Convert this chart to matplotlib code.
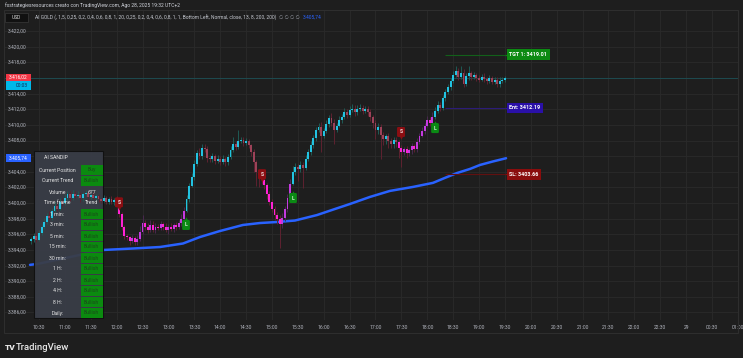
import matplotlib
matplotlib.use("Agg")
import matplotlib.pyplot as plt
import matplotlib.transforms as mtransforms
from matplotlib.patches import Rectangle
import numpy as np

plt.rcParams['font.family'] = ['Roboto', 'DejaVu Sans']

# ---------------- data ----------------
bar_step = 3            # minutes per candle
first_bar = -9          # minutes relative to 10:30 (session minutes)
first_open = 3395.1
closes = [
    3395.4, 3395.8, 3395.3, 3396.2, 3396.9, 3397.6, 3398.4, 3398.1, 3399.0, 3399.6,
    3399.3, 3400.2, 3400.0, 3400.6, 3401.1, 3400.7, 3401.2, 3400.9, 3401.0, 3400.6,
    3401.1, 3401.3, 3400.8, 3401.0, 3400.7, 3400.9, 3400.5, 3400.3, 3400.6, 3400.2,
    3400.5, 3400.1, 3400.4, 3400.0, 3398.6, 3397.0, 3395.8, 3395.6, 3395.2, 3395.5,
    3395.0, 3395.4, 3396.3, 3397.5, 3397.0, 3396.5, 3397.2, 3396.6, 3397.0, 3396.8,
    3397.3, 3396.9, 3396.6, 3397.0, 3396.7, 3397.2, 3396.9, 3397.4, 3398.0, 3399.0,
    3400.5, 3402.2, 3403.3, 3405.0, 3406.4, 3406.0, 3407.1, 3406.9, 3405.8, 3405.6,
    3406.0, 3405.4, 3405.7, 3405.3, 3405.6, 3405.2, 3405.9, 3406.8, 3407.6, 3407.2,
    3407.9, 3408.1, 3407.7, 3407.9, 3407.4, 3406.6, 3405.2, 3404.0, 3403.6, 3403.0,
    3402.3, 3401.1, 3400.2, 3399.3, 3398.5, 3398.0, 3397.3, 3398.1, 3399.2, 3400.6,
    3402.5, 3404.0, 3404.6, 3404.3, 3404.9, 3404.5, 3405.6, 3406.5, 3407.4, 3408.3,
    3409.4, 3409.8, 3408.6, 3409.2, 3410.1, 3410.9, 3410.3, 3409.4, 3409.9, 3410.6,
    3411.0, 3411.7, 3411.3, 3411.9, 3412.1, 3411.6, 3412.0, 3412.2, 3411.8, 3412.1,
    3411.6, 3411.0, 3410.2, 3409.4, 3409.8, 3408.7, 3408.2, 3408.6, 3408.0, 3407.6,
    3408.1, 3407.8, 3407.0, 3406.6, 3406.9, 3406.4, 3406.8, 3407.3, 3406.9, 3407.8,
    3408.6, 3409.2, 3409.9, 3410.6, 3410.3, 3411.0, 3411.8, 3412.5, 3412.2, 3413.4,
    3414.2, 3414.8, 3415.6, 3416.4, 3416.9, 3416.2, 3416.7, 3415.3, 3416.3, 3416.6,
    3416.1, 3416.4, 3416.0, 3415.8, 3416.2, 3415.9, 3415.6, 3416.0, 3415.5, 3415.8,
    3415.2, 3415.6, 3415.8, 3416.02,
]
wick_up = [
    0.3, 0.4, 0.5, 0.3, 0.4, 0.5, 0.3, 0.6, 0.4, 0.5,
    0.6, 0.5, 0.4, 0.6, 0.5, 0.4, 0.5, 0.3, 0.6, 0.4,
    0.3, 0.4, 0.3, 0.2, 0.4, 0.3, 0.3, 0.2, 0.4, 0.3,
    0.3, 0.4, 0.3, 0.5, 0.3, 0.2, 0.2, 0.3, 0.2, 0.4,
    0.3, 0.5, 0.8, 1.0, 0.3, 0.4, 0.6, 0.5, 0.4, 0.3,
    0.4, 0.3, 0.5, 0.3, 0.4, 0.3, 0.4, 0.5, 0.6, 0.5,
    0.5, 0.4, 0.6, 0.5, 0.4, 0.6, 0.5, 0.5, 0.4, 0.4,
    0.4, 0.3, 0.4, 0.3, 0.5, 0.3, 0.4, 0.5, 0.9, 0.4,
    1.4, 0.4, 0.3, 0.4, 0.3, 0.2, 0.3, 0.3, 0.2, 0.3,
    0.3, 0.3, 0.4, 0.3, 0.3, 0.4, 0.5, 0.6, 0.4, 0.5,
    0.6, 0.7, 0.5, 0.4, 0.5, 0.4, 0.5, 0.4, 0.5, 0.4,
    0.4, 0.5, 0.6, 0.4, 0.5, 0.4, 0.6, 0.4, 0.3, 0.5,
    0.4, 0.5, 0.4, 0.5, 0.6, 0.4, 0.5, 0.5, 0.4, 0.3,
    0.3, 0.4, 0.3, 0.4, 0.5, 0.3, 0.4, 0.3, 0.4, 0.3,
    0.4, 0.3, 0.3, 0.4, 0.3, 0.4, 0.3, 0.4, 0.3, 0.5,
    0.4, 0.5, 0.4, 0.5, 0.4, 0.6, 0.5, 0.6, 0.5, 0.4,
    0.4, 0.5, 0.4, 0.5, 0.7, 0.4, 0.9, 0.4, 0.4, 1.0,
    0.3, 0.4, 0.3, 0.4, 0.3, 0.4, 0.3, 0.4, 0.3, 0.4,
    0.3, 0.6, 0.4, 0.3,
]
wick_dn = [
    0.3, 0.4, 0.3, 0.2, 0.3, 0.2, 0.3, 0.2, 0.3, 0.2,
    0.3, 0.2, 0.4, 0.3, 0.2, 0.4, 0.3, 0.3, 0.2, 0.4,
    0.3, 0.2, 0.4, 0.3, 0.2, 0.3, 0.4, 0.3, 0.2, 0.3,
    0.3, 0.2, 0.3, 0.2, 0.4, 0.5, 0.4, 0.3, 0.5, 0.3,
    0.4, 0.3, 0.2, 0.3, 0.4, 0.3, 0.2, 0.3, 0.4, 0.3,
    0.3, 0.4, 0.3, 0.5, 0.3, 0.4, 0.3, 0.2, 0.3, 0.3,
    0.2, 0.3, 0.2, 0.3, 0.2, 0.4, 0.3, 0.3, 0.5, 0.4,
    0.3, 0.4, 0.3, 0.4, 0.3, 0.4, 0.3, 0.2, 0.3, 0.4,
    0.3, 0.2, 0.4, 0.3, 0.4, 0.6, 1.2, 1.8, 1.5, 0.6,
    0.5, 0.6, 0.4, 0.5, 0.6, 0.7, 3.0, 0.5, 0.4, 0.3,
    0.3, 0.2, 0.4, 1.5, 0.3, 2.6, 0.3, 0.2, 0.3, 0.3,
    0.3, 0.3, 2.1, 0.3, 0.2, 0.3, 0.4, 1.8, 0.3, 0.2,
    0.3, 0.2, 0.4, 0.3, 0.2, 0.4, 0.3, 0.2, 0.4, 0.3,
    0.4, 0.5, 0.6, 1.2, 0.5, 3.0, 0.8, 0.6, 1.0, 0.6,
    0.5, 0.6, 1.2, 2.0, 0.5, 0.6, 0.4, 0.5, 0.4, 0.3,
    0.3, 0.2, 0.3, 0.2, 0.4, 0.3, 0.2, 0.3, 0.4, 0.3,
    0.3, 0.2, 0.3, 0.2, 0.3, 0.5, 0.3, 0.5, 0.3, 0.6,
    0.3, 0.2, 0.4, 0.3, 0.2, 0.4, 0.3, 0.2, 0.3, 0.2,
    0.4, 0.3, 0.2, 0.3,
]

# trend phases (first candle of each new phase)
phase_starts = [93, 171, 258, 294, 417, 459]
phase_kinds = ['bear', 'bull', 'bear', 'bull', 'bear', 'bull']

# signal labels
signal_text = ['S', 'L', 'S', 'L', 'S', 'L']
signal_time = [92.7, 170.4, 258.5, 294.4, 419.6, 459.0]
signal_price = [3400.1, 3397.2, 3403.7, 3400.65, 3409.1, 3409.6]

# moving average (blue line)
ma_time = [-10.4, -2.3, 74.2, 108.9, 140.2, 166.9, 186.6, 209.8, 236.4, 256.1, 275.8,
           296.7, 322.2, 343.1, 360.5, 383.6, 406.8, 433.5, 456.7, 470.6, 484.5, 499.5,
           511.1, 526.2, 541.3]
ma_value = [3392.1, 3392.2, 3394.0, 3394.19, 3394.38, 3394.83, 3395.66, 3396.43, 3397.2,
            3397.45, 3397.58, 3397.77, 3398.47, 3399.25, 3399.89, 3400.79, 3401.56,
            3402.07, 3402.59, 3403.23, 3403.85, 3404.37, 3404.88, 3405.33, 3405.74]

# trade levels
level_names = ['TGT 1', 'Ent', 'SL']
level_values = [3419.01, 3412.19, 3403.66]
level_start = 470.6
level_end = 542.4

price_ticks = list(range(3386, 3423, 2))
time_tick_labels = ['10:30', '11:00', '11:30', '12:00', '12:30', '13:00', '13:30', '14:00',
                    '14:30', '15:00', '15:30', '16:00', '16:30', '17:00', '17:30', '18:00',
                    '18:30', '19:00', '19:30', '20:00', '20:30', '21:00', '21:30', '22:00',
                    '22:30', '29', '00:30', '01:00']

table_title = 'AI SANDIP'
table_rows = ['Current Position', 'Current Trend', 'Volume', 'Time frame', '1 min:', '3 min:',
              '5 min:', '15 min:', '30 min:', '1 H:', '2 H:', '4 H:', '8 H:', 'Daily:']
table_vals = ['Buy', 'Bullish', '677', 'Trend'] + ['Bullish'] * 10
table_green = [True, True, False, False] + [True] * 10

legend_params = '(, 1,5, 0,25, 0,2, 0,4, 0,6, 0,8, 1, 20, 0,25, 0,2, 0,4, 0,6, 0,8, 1, 1, Bottom Left, Normal, close, 13, 8, 200, 200)'
header = 'fxstrategiesresources creato con TradingView.com, Ago 28, 2025 19:32 UTC+2'
countdown = '00:03'


def it_fmt(v):
    s = f"{v:,.2f}"
    return s.replace(',', '#').replace('.', ',').replace('#', '.')


# ---------------- figure ----------------
W, H = 743, 358
BG = '#1e1e1e'
fig = plt.figure(figsize=(W / 100, H / 100), dpi=100, facecolor=BG)
PX = mtransforms.Affine2D().scale(1, -1).translate(0, H)   # pixel coords, y down

ax = fig.add_axes([4 / W, 1 - 320 / H, 734 / W, 310 / H])
ax.set_facecolor(BG)
ax.set_xlim(-40.57, 810.15)
ax.set_ylim(3385.04, 3424.71)
for s in ax.spines.values():
    s.set_visible(False)

time_ticks = [30 * k for k in range(len(time_tick_labels))]
ax.set_xticks(time_ticks)
ax.set_xticklabels(time_tick_labels, fontsize=3.6, color='#b2b5be')
ax.set_yticks(price_ticks)
ax.set_yticklabels([])
ax.tick_params(axis='both', length=0, pad=3.8)
ax.grid(True, color='#2a2a2a', lw=0.6, zorder=0)
ax.set_axisbelow(True)

# frame
fig.add_artist(Rectangle((4, 10), 734, 323, transform=PX, fill=False,
                         ec='#2e2e2e', lw=0.8, zorder=1))

# current price line
ax.axhline(closes[-1], color='#1d4b50', lw=0.7, zorder=1)

# moving average
ax.plot(ma_time, ma_value, color='#2962ff', lw=1.8, solid_capstyle='round',
        solid_joinstyle='round', zorder=2)

# ---------------- candles ----------------
n = len(closes)
t = np.array([first_bar + bar_step * i for i in range(n)], dtype=float)
c = np.array(closes)
o = np.concatenate([[first_open], c[:-1]])
hi = np.maximum(o, c) + np.array(wick_up)
lo = np.minimum(o, c) - np.array(wick_dn)
state = []
for ti in t:
    st = 'bull'
    for ps, pk in zip(phase_starts, phase_kinds):
        if ti >= ps:
            st = pk
    state.append(st)
body_col, wick_col = [], []
for i in range(n):
    up = c[i] >= o[i]
    if state[i] == 'bull':
        body_col.append('#22c3e2' if up else '#9c4258')
        wick_col.append('#1f5a55' if up else '#5e2230')
    else:
        body_col.append('#c43ae0' if up else '#ff22d4')
        wick_col.append('#4a2850' if up else '#5e2230')
ax.vlines(t, lo, hi, colors=wick_col, lw=0.7, zorder=4)
ax.bar(t, np.maximum(np.abs(c - o), 0.12), bottom=np.minimum(o, c), width=2.2,
       color=body_col, lw=0, zorder=4.5)

# ---------------- signal labels ----------------
for txt, tm, pr in zip(signal_text, signal_time, signal_price):
    col = '#8b0e12' if txt == 'S' else '#0b8a14'
    ax.text(tm, pr, txt, ha='center', va='center', fontsize=3.6, fontweight='bold',
            color='#f0dede' if txt == 'S' else '#dff5df', zorder=8,
            bbox=dict(boxstyle='round,pad=0.5,rounding_size=0.25', fc=col, ec='none'))
    dy = -5.5 if txt == 'S' else 5.5
    tr = mtransforms.offset_copy(ax.transData, fig=fig, x=0, y=dy, units='dots')
    ax.plot([tm], [pr], marker='v' if txt == 'S' else '^', ms=3.2, color=col,
            mec='none', transform=tr, zorder=7.9)

# ---------------- trade levels ----------------
level_fc = ['#0c8a12', '#2a10a8', '#8a0d0d']
level_lc = ['#12601a', '#2c1c78', '#621010']
for name, val, fc, lc in zip(level_names, level_values, level_fc, level_lc):
    ax.hlines(val, level_start, level_end, colors=lc, lw=0.8, zorder=3)
    ax.text(level_end + 2.6, val, f'{name}: {val:.2f}', ha='left', va='center',
            fontsize=3.9, fontweight='bold', color='white', zorder=8,
            bbox=dict(boxstyle='square,pad=0.5', fc=fc, ec='none'))
    tr = mtransforms.offset_copy(ax.transData, fig=fig, x=1.2, y=0, units='dots')
    ax.plot([level_end], [val], marker='<', ms=3.8, color=fc, mec='none',
            transform=tr, zorder=7.9)

# ---------------- table ----------------
tx0, tx1, ty0, ty1 = 34, 103, 151, 318
ax.add_artist(Rectangle((tx0, ty0), tx1 - tx0, ty1 - ty0, transform=PX, fc='#393d47',
                        ec='#101010', lw=0.8, alpha=0.95, zorder=3, clip_on=False))
ax.text(56, 157.5, table_title, transform=PX, ha='center', va='center', fontsize=3.7,
        color='#e6e6e6', zorder=6)
for k, (lab, val, green) in enumerate(zip(table_rows, table_vals, table_green)):
    yc = 170 + 11 * k
    if green:
        ax.add_artist(Rectangle((81, yc - 5), 21.5, 10, transform=PX, fc='#0b8a0f',
                                ec='none', zorder=5, clip_on=False))
    ax.text(57.5, yc, lab, transform=PX, ha='center', va='center', fontsize=3.7,
            color='#e6e6e6', zorder=6)
    ax.text(91.5, yc, val, transform=PX, ha='center', va='center', fontsize=3.7,
            color='#1b4a1b' if green else '#e6e6e6', zorder=6)

# ---------------- price tags ----------------
tags = [(73.5, 81.0), (81.0, 89.5), (154.0, 162.0)]
fig.add_artist(Rectangle((5.5, 73.5), 25, 7.5, transform=PX, fc='#f23645', ec='none', zorder=9))
fig.text(18, 77.3, it_fmt(closes[-1]), transform=PX, ha='center', va='center',
         fontsize=3.5, color='white', zorder=10)
fig.add_artist(Rectangle((5.5, 81), 25, 8.5, transform=PX, fc='#00b8e8', ec='none', zorder=9))
fig.text(22, 85.3, countdown, transform=PX, ha='center', va='center',
         fontsize=3.5, color='#0b2a5a', zorder=10)
fig.add_artist(Rectangle((5.5, 154), 25, 8, transform=PX, fc='#2962ff', ec='none', zorder=9))
fig.text(18, 158, it_fmt(ma_value[-1]), transform=PX, ha='center', va='center',
         fontsize=3.5, color='white', zorder=10)

# price axis labels (left), those under a tag are hidden as in TradingView
for p in price_ticks:
    ypx = 31.2 + (3422 - p) * 7.814
    if any(a - 3 < ypx < b + 3 for a, b in tags):
        continue
    fig.text(17.5, ypx, it_fmt(p), transform=PX, ha='center', va='center',
             fontsize=3.5, color='#b2b5be', zorder=5)

# ---------------- header / legend ----------------
fig.text(5, 5.5, header, transform=PX, ha='left', va='center', fontsize=3.6,
         color='#d1d4dc')
fig.add_artist(Rectangle((5, 13), 23, 9, transform=PX, fc='#111111', ec='#3a3a3a',
                         lw=0.5, zorder=3))
fig.text(16.5, 17.6, 'USD', transform=PX, ha='center', va='center', fontsize=3.5,
         color='#e0e0e0', zorder=4)

renderer = fig.canvas.get_renderer()
t1 = fig.text(35, 17.6, 'AI GOLD ' + legend_params, transform=PX, ha='left', va='center',
              fontsize=3.5, color='#c8cbd3')
bb = t1.get_window_extent(renderer)
t2 = fig.text(bb.x1 + 3, 17.6, '\u2205 \u2205 \u2205 \u2205', transform=PX, ha='left',
              va='center', fontsize=3.5, color='#9a9ea8')
bb2 = t2.get_window_extent(renderer)
fig.text(bb2.x1 + 3, 17.6, it_fmt(ma_value[-1]), transform=PX, ha='left', va='center',
         fontsize=3.5, color='#2962ff')

# TradingView logo text
fig.text(5, 348, 'TV', transform=PX, ha='left', va='center', fontsize=6,
         fontweight='black', color='#e8e8e8')
fig.text(16, 348, 'TradingView', transform=PX, ha='left', va='center', fontsize=6.8,
         fontweight='medium', color='#e8e8e8')

fig.savefig('out.png', dpi=100, facecolor=BG)
